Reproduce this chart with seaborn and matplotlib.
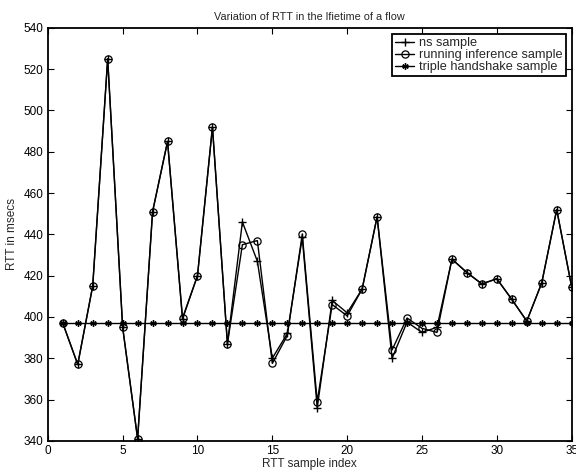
import numpy as np
import pandas as pd
import matplotlib
matplotlib.use("Agg")
import matplotlib.pyplot as plt
import seaborn as sns

idx = list(range(1, 36))
ns_sample = [397, 377, 415, 525, 395, 341, 451, 485, 399, 420, 492, 387, 446, 427, 380, 392,
             438.5, 356, 408, 402, 413.5, 448.5, 380, 397.5, 392.5, 395, 428, 421.5, 416, 418.5,
             408.5, 398, 416.5, 452, 414.5]
running_inf = [397, 377, 415, 525, 395, 341, 451, 485, 399.5, 420, 492, 387, 435, 437, 377.5, 391,
               440, 359, 406, 400.5, 413.5, 448.5, 384, 399.5, 394.5, 392.5, 428, 421.5, 416, 418.5,
               408.5, 398, 416.5, 452, 414.5]
triple = [397] * 35

title = "Variation of RTT in the lfietime of a flow"
xlabel = "RTT sample index"
ylabel = "RTT in msecs"
labels = ["ns sample", "running inference sample", "triple handshake sample"]
xticks = [0, 5, 10, 15, 20, 25, 30, 35]
yticks = [340, 360, 380, 400, 420, 440, 460, 480, 500, 520, 540]

sns.set_style("ticks")
plt.rcParams['font.family'] = ['Liberation Sans', 'DejaVu Sans']
plt.rcParams['font.size'] = 8.5

fig = plt.figure(figsize=(5.76, 4.73), dpi=100)
ax = fig.add_axes([0.083, 0.068, 0.9095, 0.873])

df = pd.DataFrame({"idx": idx, "ns": ns_sample, "ri": running_inf, "tr": triple})

asterisk = (6, 2, 0)
sns.lineplot(data=df, x="idx", y="ns", ax=ax, color="k", lw=1.0, marker="+", ms=5.5,
             mec="k", mew=1.0, label=labels[0])
sns.lineplot(data=df, x="idx", y="ri", ax=ax, color="k", lw=1.0, marker="o", ms=5.2,
             mfc="none", mec="k", mew=0.9, label=labels[1])
sns.lineplot(data=df, x="idx", y="tr", ax=ax, color="k", lw=1.0, marker=asterisk, ms=4.6,
             mfc="k", mec="k", mew=1.0, label=labels[2])

ax.set_xlim(0, 35)
ax.set_ylim(340, 540)
ax.set_xticks(xticks)
ax.set_yticks(yticks)
ax.tick_params(direction="in", length=4, width=0.8, top=True, right=True, labelsize=8.5,
               colors="k", pad=3)
for s in ax.spines.values():
    s.set_visible(True)
    s.set_linewidth(1.3)
    s.set_color("k")
ax.set_title(title, fontsize=7.8, pad=6)
ax.set_xlabel(xlabel, fontsize=8.5, labelpad=1)
ax.set_ylabel(ylabel, fontsize=8.5, labelpad=4)

leg = ax.legend(loc="upper right", bbox_to_anchor=(0.9885, 0.985), fancybox=False, framealpha=1,
                edgecolor="k", fontsize=9.2, handlelength=1.5, borderpad=0.25, labelspacing=0.0,
                handletextpad=0.35, borderaxespad=0.0)
leg.get_frame().set_linewidth(1.3)

fig.savefig("out.png", dpi=100)
